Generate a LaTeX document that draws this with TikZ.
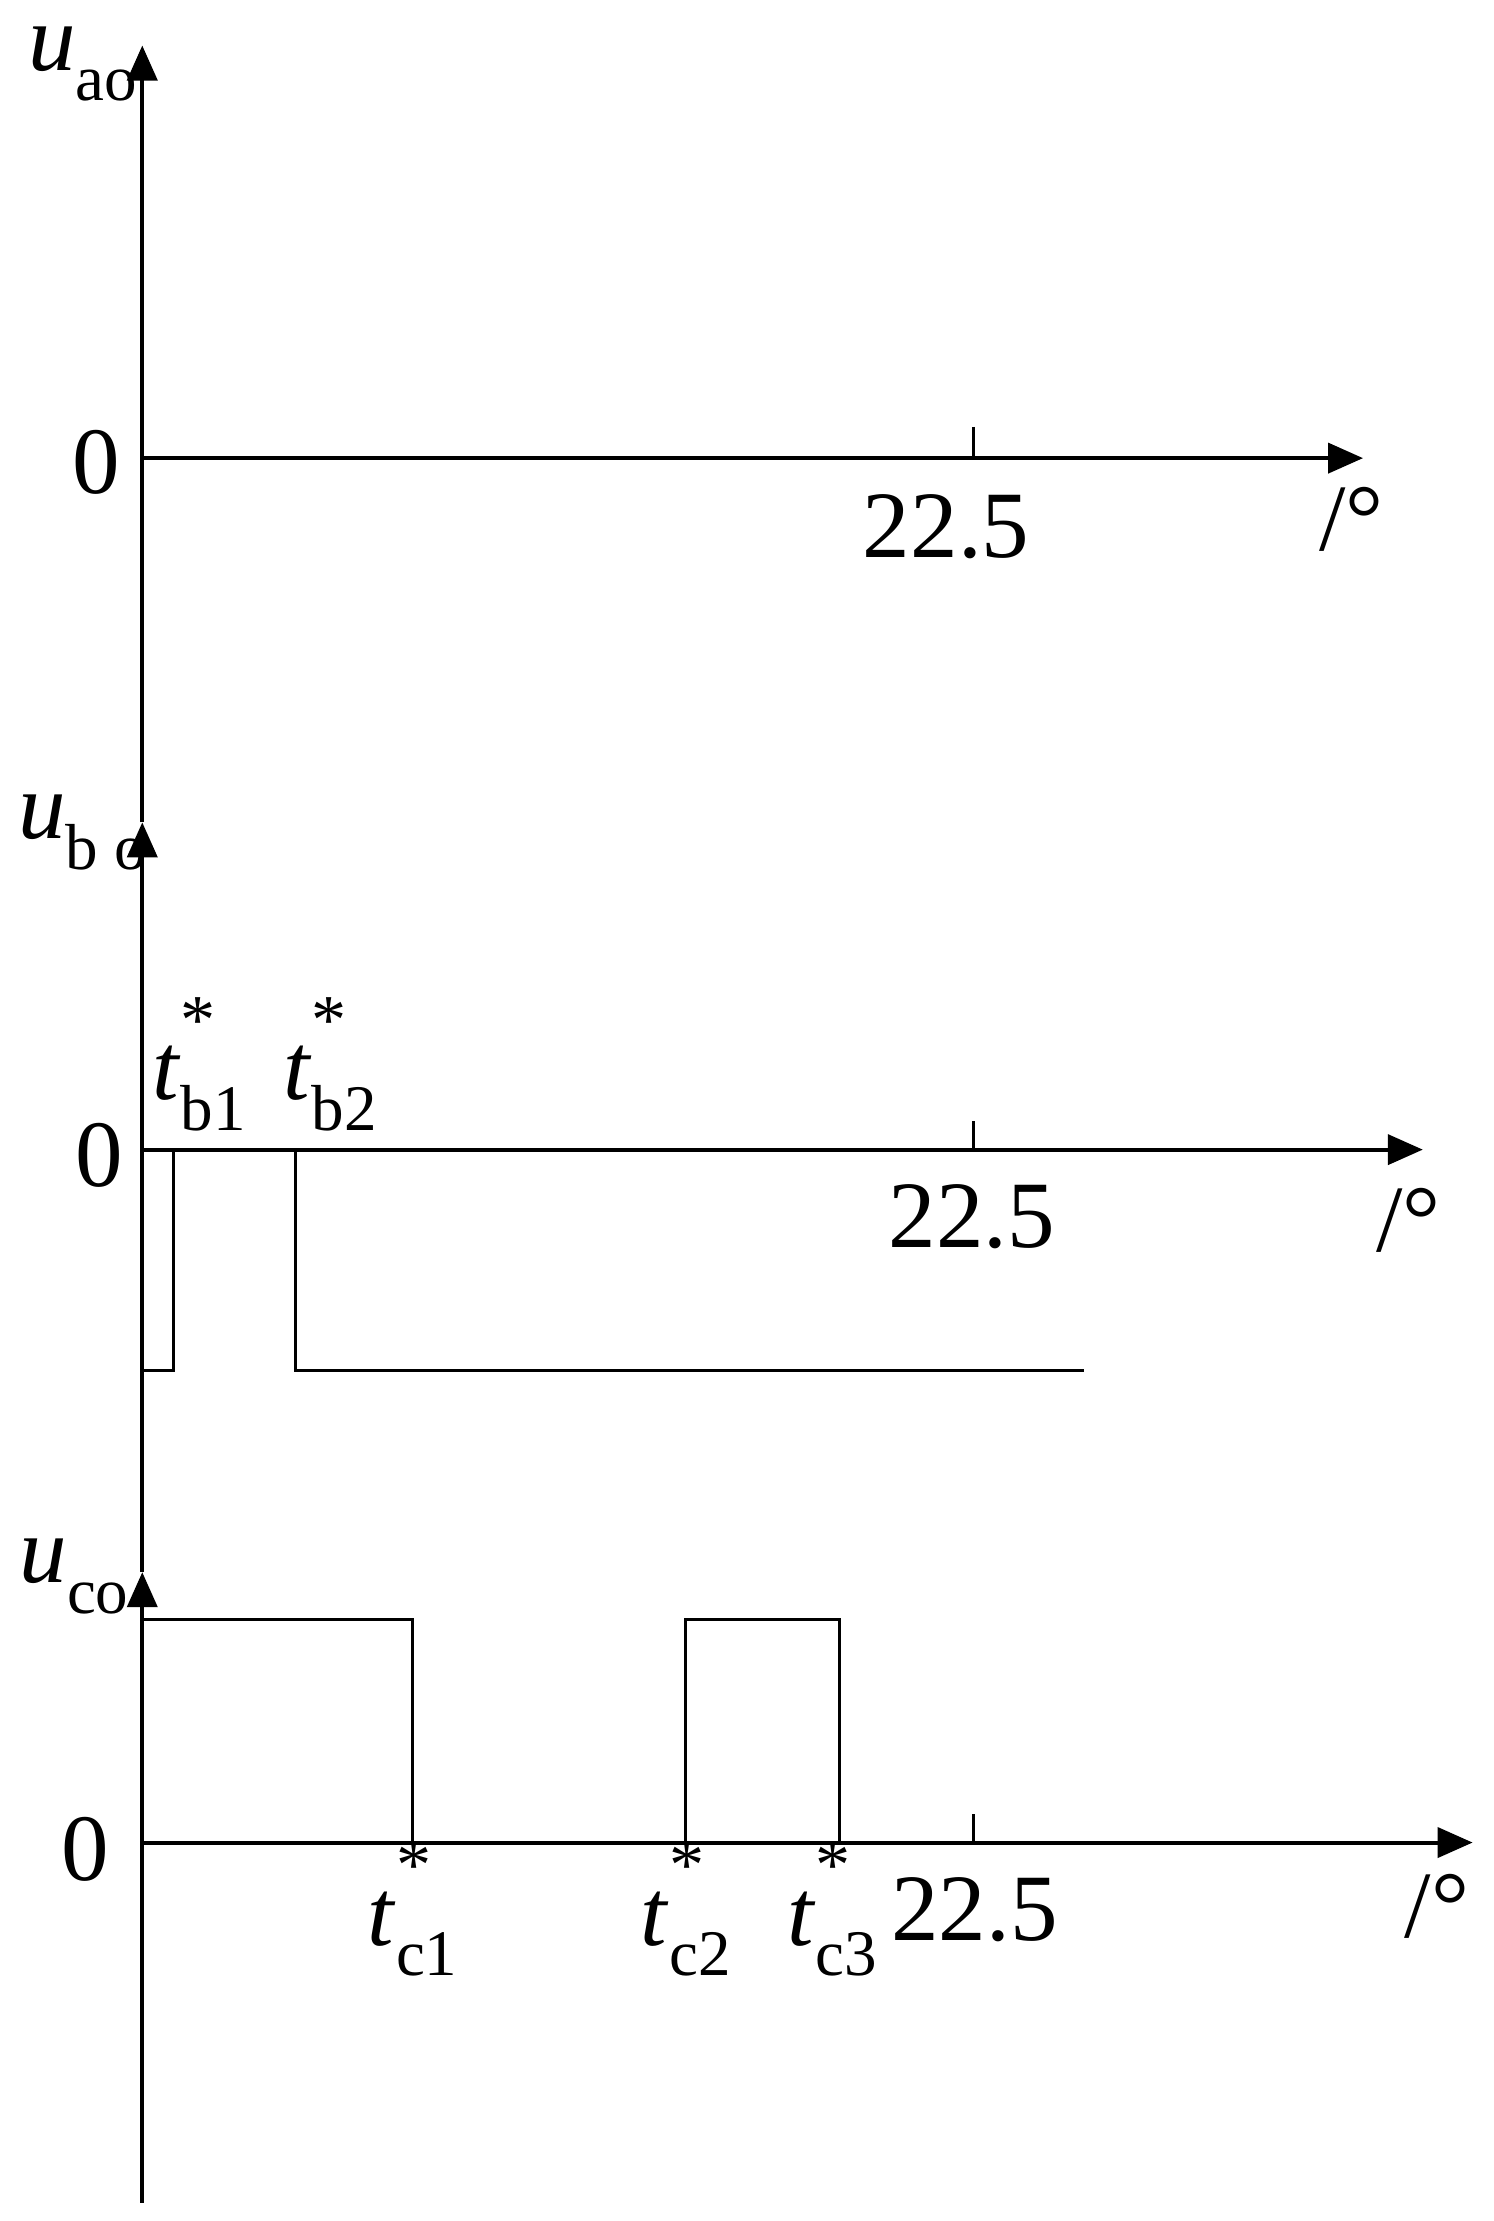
\documentclass[tikz,border=0pt]{standalone}
\usepackage{fontspec}
\setmainfont{Liberation Serif}
\usetikzlibrary{arrows.meta}
\newcommand{\tlab}[1]{\textit{t}\rlap{\raisebox{1.3ex}{\fontsize{14}{14}\selectfont *}}\raisebox{-0.7ex}{\fontsize{13}{14}\selectfont #1}}
\newcommand{\ulab}[1]{\textit{u}\raisebox{-0.7ex}{\fontsize{13}{14}\selectfont #1}}
\begin{document}
\begin{tikzpicture}[x=0.01cm,y=-0.01cm,
  ax/.style={line width=0.8pt,-{Triangle[length=7pt,width=6pt]}},
  wave/.style={line width=0.6pt},
  lbl/.style={font=\fontsize{19}{20}\selectfont,inner sep=0pt},
  tl/.style={font=\fontsize{19}{20}\selectfont,inner sep=0pt}]
\useasboundingbox (0,0) rectangle (1050,1561);
% vertical axis
\coordinate (vb) at (100,1548);
\coordinate (vc) at (100,1105);
\coordinate (vbb) at (100,578);
\coordinate (va) at (100,32);
\draw[ax] (vb) -- (vc);
\draw[ax] (vc) -- (vbb);
\draw[ax] (vbb) -- (va);
% axis a
\coordinate (a0) at (100,322); \coordinate (a1) at (958,322);
\draw[ax] (a0) -- (a1);
\draw[wave] (684,300) -- (684,322);
\node[lbl] (a22) at (665,370) {22.5};
\node[lbl] (adeg) at (950,365) {/°};
\node[lbl] (az) at (68,325) {0};
\node[lbl] (ua) at (58,45) {\ulab{ao}};
% axis b
\coordinate (b0) at (100,808); \coordinate (b1) at (1000,808);
\draw[ax] (b0) -- (b1);
\draw[wave] (684,788) -- (684,808);
\node[lbl] (b22) at (683,855) {22.5};
\node[lbl] (bdeg) at (990,858) {/°};
\node[lbl] (bz) at (70,812) {0};
\node[lbl] (ub) at (58,585) {\ulab{b o}};
\draw[wave] (100,963) -- (122,963) -- (122,808);
\draw[wave] (208,808) -- (208,963) -- (762,963);
\node[tl] (tb1) at (140,748) {\tlab{b1}};
\node[tl] (tb2) at (232,748) {\tlab{b2}};
% axis c
\coordinate (c0) at (100,1295); \coordinate (c1) at (1035,1295);
\draw[ax] (c0) -- (c1);
\draw[wave] (684,1275) -- (684,1295);
\node[lbl] (c22) at (685,1342) {22.5};
\node[lbl] (cdeg) at (1010,1340) {/°};
\node[lbl] (cz) at (60,1300) {0};
\node[lbl] (uc) at (52,1108) {\ulab{co}};
\draw[wave] (100,1138) -- (290,1138) -- (290,1295);
\draw[wave] (482,1295) -- (482,1138) -- (590,1138) -- (590,1295);
\node[tl] (tc1) at (290,1342) {\tlab{c1}};
\node[tl] (tc2) at (482,1342) {\tlab{c2}};
\node[tl] (tc3) at (585,1342) {\tlab{c3}};
\end{tikzpicture}
\end{document}
